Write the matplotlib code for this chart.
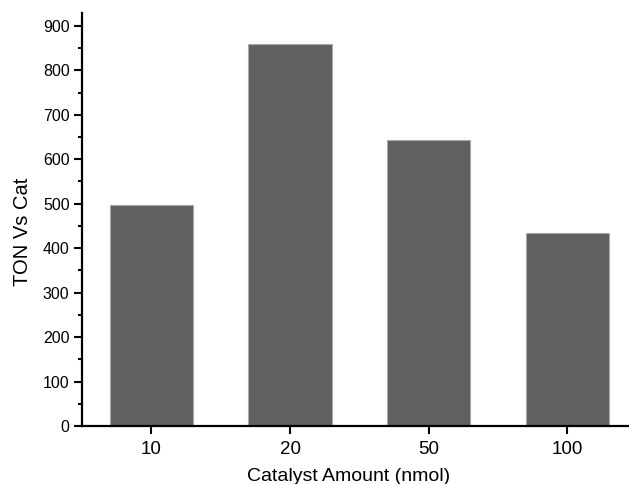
import matplotlib
matplotlib.use("Agg")
import matplotlib.pyplot as plt
from matplotlib.ticker import MultipleLocator

categories = ["10", "20", "50", "100"]
ton_values = [496, 860, 643, 434]

plt.rcParams['font.family'] = ['Liberation Sans', 'DejaVu Sans']

W, H = 629, 484
fig = plt.figure(figsize=(W / 100, H / 100), dpi=100)
ax = fig.add_axes([82 / W, (H - 426) / H, (636.8 - 82) / W, (426 - 13) / H])

x = range(len(categories))
ax.bar(x, ton_values, width=0.6, color='#606060', edgecolor='#a8a8a8', linewidth=0.8)

ax.set_xlim(-0.5, 3.5)
ax.set_ylim(0, 929)
ax.set_xticks(list(x))
ax.set_xticklabels(categories, fontsize=13.5)
ax.yaxis.set_major_locator(MultipleLocator(100))
ax.yaxis.set_minor_locator(MultipleLocator(50))
ax.tick_params(axis='y', which='major', direction='out', length=6, width=1.5, labelsize=11.5, pad=3)
ax.tick_params(axis='y', which='minor', direction='out', length=3, width=1.5)
ax.tick_params(axis='x', which='major', direction='out', length=6, width=1.5, pad=5)

for s in ['top', 'right']:
    ax.spines[s].set_visible(False)
for s in ['left', 'bottom']:
    ax.spines[s].set_linewidth(1.6)

ax.set_xlabel("Catalyst Amount (nmol)", fontsize=14)
ax.set_ylabel("TON Vs Cat", fontsize=14.5)
ax.xaxis.set_label_coords(0.481, -0.101)
ax.yaxis.set_label_coords(-0.090, 0.47)

fig.savefig("out.png", dpi=100)
